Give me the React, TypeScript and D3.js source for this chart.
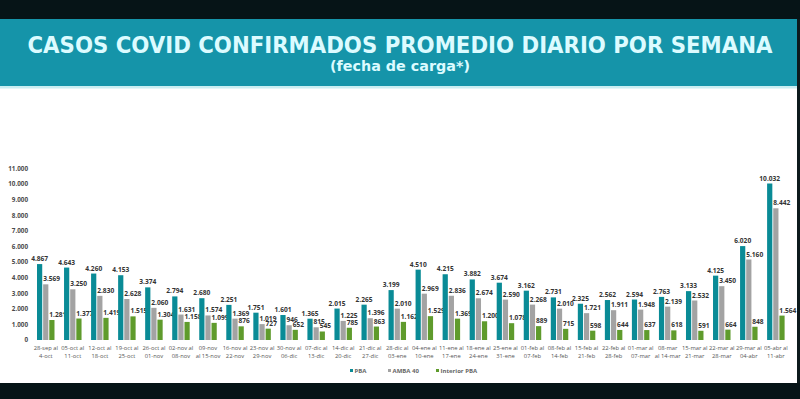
import React, { useEffect } from 'react';
import * as d3 from 'd3';

const weekStart = [
  '28-sep al', '05-oct al', '12-oct al', '19-oct al', '26-oct al', '02-nov al', '09-nov',
  '16-nov al', '23-nov al', '30-nov al', '07-dic al', '14-dic al', '21-dic al', '28-dic al',
  '04-ene al', '11-ene al', '18-ene al', '25-ene al', '01-feb al', '08-feb al', '15-feb al',
  '22-feb al', '01-mar al', '08-mar', '15-mar al', '22-mar al', '29-mar al', '05-abr al',
];
const weekEnd = [
  '4-oct', '11-oct', '18-oct', '25-oct', '01-nov', '08-nov', 'al 15-nov',
  '22-nov', '29-nov', '06-dic', '13-dic', '20-dic', '27-dic', '03-ene',
  '10-ene', '17-ene', '24-ene', '31-ene', '07-feb', '14-feb', '21-feb',
  '28-feb', '07-mar', 'al 14-mar', '21-mar', '28-mar', '04-abr', '11-abr',
];

const pba = [
  4867, 4643, 4260, 4153, 3374, 2794, 2680, 2251, 1751, 1601, 1365, 2015, 2265, 3199,
  4510, 4215, 3882, 3674, 3162, 2731, 2325, 2562, 2594, 2763, 3133, 4125, 6020, 10032,
];
const amba40 = [
  3569, 3250, 2830, 2628, 2060, 1631, 1574, 1369, 1019, 946, 815, 1225, 1396, 2010,
  2969, 2836, 2674, 2590, 2268, 2010, 1721, 1911, 1948, 2139, 2532, 3450, 5160, 8442,
];
const interiorPba = [
  1281, 1377, 1419, 1515, 1304, 1158, 1099, 876, 727, 652, 545, 785, 863, 1162,
  1529, 1369, 1200, 1078, 889, 715, 598, 644, 637, 618, 591, 664, 848, 1564,
];

const seriesNames = ['PBA', 'AMBA 40', 'Interior PBA'];
const seriesColors = ['#0a8b96', '#a3a3a3', '#5f9b2c'];
const yTicks = d3.range(0, 12000, 1000);

const W = 800;
const H = 399;

const fmt = (v: number) => d3.format(',')(v).replace(/,/g, '.');

export default function App() {
  useEffect(() => {
    document.body.style.margin = '0';
  }, []);

  const series = [pba, amba40, interiorPba];
  const idx = d3.range(weekStart.length).map(String);

  const x0 = d3.scaleBand<string>().domain(idx).range([37, 784.6]).paddingInner(0.353).paddingOuter(0);
  const x1 = d3.scaleBand<number>().domain([0, 1, 2]).range([0, x0.bandwidth()]).paddingInner(0.15);
  const y = d3.scaleLinear().domain([0, 11000]).range([340, 168.4]);

  const legendX = [350, 388, 436];

  return (
    <svg width={W} height={H} style={{ display: 'block' }} fontFamily="'Open Sans', sans-serif">
      <rect x={0} y={0} width={W} height={H} fill="#ffffff" />
      <rect x={0} y={0} width={W} height={19} fill="#061417" />
      <rect x={0} y={19} width={W} height={67} fill="#1594a9" />
      <rect x={0} y={86} width={W} height={2.5} fill="#c9eef2" />
      <rect x={0} y={383} width={W} height={16} fill="#061417" />
      <rect x={797} y={19} width={3} height={364} fill="#0d1a1c" />

      <text x={400} y={52.5} textAnchor="middle" fill="#dcfbff" fontSize={23} fontWeight="bold"
        fontFamily="'DejaVu Sans Condensed', 'Liberation Sans Narrow', sans-serif"
        textLength={745} lengthAdjust="spacingAndGlyphs">
        CASOS COVID CONFIRMADOS PROMEDIO DIARIO POR SEMANA
      </text>
      <text x={400} y={71} textAnchor="middle" fill="#dcfbff" fontSize={14} fontWeight="bold"
        fontFamily="'DejaVu Sans Condensed', 'Liberation Sans Narrow', sans-serif"
        textLength={140} lengthAdjust="spacingAndGlyphs">
        (fecha de carga*)
      </text>

      {/* y axis labels */}
      {yTicks.map(t => (
        <text key={t} x={28} y={y(t) + 2.3} textAnchor="end" fontSize={6.3} fontWeight="bold" fill="#4a4a4a">
          {fmt(t)}
        </text>
      ))}

      {/* bars */}
      {idx.map((k, i) => (
        <g key={k} transform={`translate(${x0(k)},0)`}>
          {series.map((s, j) => {
            const bx = x1(j) as number;
            const top = y(s[i]);
            return (
              <g key={j}>
                <rect x={bx} y={top} width={x1.bandwidth()} height={y(0) - top} fill={seriesColors[j]} />
                <text
                  x={j === 0 ? bx + x1.bandwidth() / 2 : bx}
                  y={top - 3}
                  textAnchor={j === 0 ? 'middle' : 'start'}
                  fontSize={6.6}
                  fontWeight="bold"
                  fill="#333"
                >
                  {fmt(s[i])}
                </text>
              </g>
            );
          })}
          <text x={x0.bandwidth() / 2} y={350} textAnchor="middle" fontSize={5.8} fill="#555">
            {weekStart[i]}
          </text>
          <text x={x0.bandwidth() / 2} y={357.5} textAnchor="middle" fontSize={5.8} fill="#555">
            {weekEnd[i]}
          </text>
        </g>
      ))}

      {/* legend */}
      {seriesNames.map((n, j) => (
        <g key={n} transform={`translate(${legendX[j]},372)`}>
          <rect x={0} y={-3} width={3} height={3} fill={seriesColors[j]} />
          <text x={4.5} y={0.5} fontSize={6} fontWeight="bold" fill="#666">{n}</text>
        </g>
      ))}
    </svg>
  );
}
